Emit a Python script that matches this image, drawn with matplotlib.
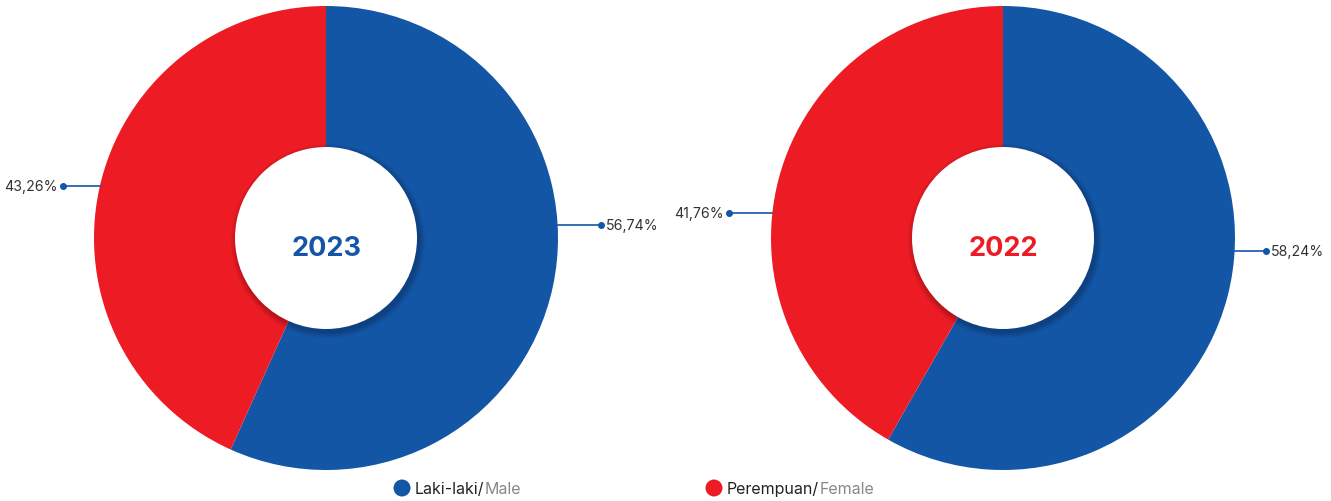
import matplotlib.pyplot as plt
from matplotlib.patches import Circle

plt.rcParams['font.family'] = ['Inter', 'DejaVu Sans']

# data
years = ['2023', '2022']
male = [56.74, 58.24]
female = [43.26, 41.76]
male_label = ['56,74%', '58,24%']
female_label = ['43,26%', '41,76%']

blue = '#1356a6'
red = '#ed1c24'
year_colors = [blue, red]

# layout in pixel units (y up)
W, H = 1331, 502
centers = [(326, 263), (1003, 263)]
R = 232
r_in = 91
male_dy = [13, -13]     # label line offset from center
female_dy = [52, 25]
male_dot = [601, 1266]  # x of the leader dot
female_dot = [63, 729]

fig = plt.figure(figsize=(W/100, H/100), dpi=100)
ax = fig.add_axes([0, 0, 1, 1])

for i in range(2):
    cx, cy = centers[i]
    ax.pie([male[i], female[i]], colors=[blue, red], startangle=90,
           counterclock=False, center=(cx, cy), radius=R,
           wedgeprops=dict(linewidth=0))
    # soft shadow of the inner disc
    for k, a in enumerate([0.05, 0.05, 0.06, 0.07]):
        ax.add_patch(Circle((cx + 2, cy - 3), r_in + 6 - k*1.5, color='black',
                            alpha=a, lw=0, zorder=3))
    ax.add_patch(Circle((cx, cy), r_in, color='white', lw=0, zorder=4))
    ax.text(cx, cy - 10, years[i], color=year_colors[i], fontsize=19.5,
            fontweight='bold', ha='center', va='center', zorder=5)

    # male label (right side)
    y = cy + male_dy[i]
    x0 = cx + (R**2 - male_dy[i]**2) ** 0.5
    ax.plot([x0, male_dot[i]], [y, y], color=blue, lw=1.2, zorder=2)
    ax.plot(male_dot[i], y, 'o', color=blue, ms=4, zorder=2)
    ax.text(male_dot[i] + 5, y, male_label[i], color='#333333', fontsize=10.2,
            ha='left', va='center')

    # female label (left side)
    y = cy + female_dy[i]
    x0 = cx - (R**2 - female_dy[i]**2) ** 0.5
    ax.plot([x0, female_dot[i]], [y, y], color=blue, lw=1.2, zorder=2)
    ax.plot(female_dot[i], y, 'o', color=blue, ms=4, zorder=2)
    ax.text(female_dot[i] - 5, y, female_label[i], color='#333333', fontsize=10.2,
            ha='right', va='center')

ax.set_xlim(0, W)
ax.set_ylim(0, H)
ax.set_aspect('equal')
ax.axis('off')

# legend
renderer = fig.canvas.get_renderer()
legend = [(402, blue, 'Laki-laki/', 'Male'), (714, red, 'Perempuan/', 'Female')]
for x, c, t1, t2 in legend:
    ax.add_patch(Circle((x, 13), 8.5, color=c, lw=0))
    t = ax.text(x + 13, 12, t1, color='#222222', fontsize=11.5, ha='left', va='center')
    bb = t.get_window_extent(renderer)
    ax.text(bb.x1, 12, t2, color='#888888', fontsize=11.5, ha='left', va='center')

fig.savefig('out.png', dpi=100)
